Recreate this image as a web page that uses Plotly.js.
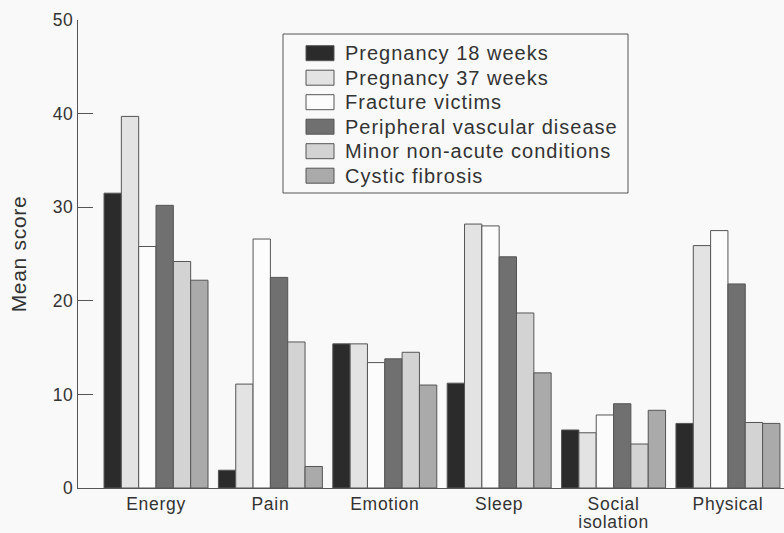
<!DOCTYPE html>
<html>
<head>
<meta charset="utf-8">
<script src="https://cdn.plot.ly/plotly-3.0.1.min.js"></script>
<style>
html,body{margin:0;padding:0;background:#f9f9f9;}
svg text{letter-spacing:0.7px;}
svg text.annotation-text{letter-spacing:1px;}
</style>
</head>
<body>
<div id="chart" style="width:784px;height:533px;"></div>
<script>
const categories = ['Energy', 'Pain', 'Emotion', 'Sleep', 'Social isolation', 'Physical'];
const tickLabels = ['Energy', 'Pain', 'Emotion', 'Sleep', 'Social<br>isolation', 'Physical'];

const seriesNames = ['Pregnancy 18 weeks', 'Pregnancy 37 weeks', 'Fracture victims',
  'Peripheral vascular disease', 'Minor non-acute conditions', 'Cystic fibrosis'];

const pregnancy18 = [31.5, 1.9, 15.4, 11.2, 6.2, 6.9];
const pregnancy37 = [39.7, 11.1, 15.4, 28.2, 5.9, 25.9];
const fracture    = [25.8, 26.6, 13.4, 28.0, 7.8, 27.5];
const peripheral  = [30.2, 22.5, 13.8, 24.7, 9.0, 21.8];
const minorCond   = [24.2, 15.6, 14.5, 18.7, 4.7, 7.0];
const cystic      = [22.2, 2.3, 11.0, 12.3, 8.3, 6.9];

const seriesValues = [pregnancy18, pregnancy37, fracture, peripheral, minorCond, cystic];
const colors = ['#2b2b2b', '#e3e3e3', '#fcfcfc', '#707070', '#d3d3d3', '#aaaaaa'];

const FONT = 'Liberation Sans, Arial, sans-serif';
const TXT = '#333';

const traces = seriesNames.map((name, i) => ({
  type: 'bar',
  name: name,
  x: categories,
  y: seriesValues[i],
  marker: {color: colors[i], line: {color: '#555', width: 1}},
  hoverinfo: 'skip',
  showlegend: false
}));

// plot area in pixels (for placing the custom legend box)
const W = 784, H = 533, L = 78, R = 0, T = 20, B = 45;
const pw = W - L - R, ph = H - T - B;
const px = x => (x - L) / pw;
const py = y => (H - B - y) / ph;

const shapes = [{
  type: 'rect', xref: 'paper', yref: 'paper',
  x0: px(283), x1: px(628), y0: py(34), y1: py(193),
  line: {color: '#555', width: 1}, fillcolor: '#f9f9f9', layer: 'above'
}];
const annotations = [];
seriesNames.forEach((name, i) => {
  const cy = 53.2 + 24.5 * i;
  shapes.push({
    type: 'rect', xref: 'paper', yref: 'paper',
    x0: px(306), x1: px(334), y0: py(cy - 7.5), y1: py(cy + 7.5),
    line: {color: '#555', width: 1}, fillcolor: colors[i], layer: 'above'
  });
  annotations.push({
    xref: 'paper', yref: 'paper', x: px(343), y: py(cy),
    xanchor: 'left', yanchor: 'middle', showarrow: false,
    text: name, font: {family: FONT, size: 20, color: TXT}
  });
});

const tickFont = {family: FONT, size: 17.5, color: TXT};

const layout = {
  width: W, height: H,
  paper_bgcolor: '#f9f9f9', plot_bgcolor: '#f9f9f9',
  margin: {l: L, r: R, t: T, b: B},
  font: tickFont,
  barmode: 'group',
  bargap: 0.091,
  bargroupgap: 0,
  showlegend: false,
  shapes: shapes,
  annotations: annotations,
  xaxis: {
    type: 'category',
    range: [-0.682, 5.49],
    tickvals: categories, ticktext: tickLabels,
    showline: true, linecolor: '#555', linewidth: 1,
    ticks: '', showgrid: false, zeroline: false,
    tickfont: tickFont
  },
  yaxis: {
    range: [0, 50],
    tickvals: [0, 10, 20, 30, 40, 50],
    ticks: 'inside', ticklen: 15, tickcolor: '#555', tickwidth: 1,
    showline: true, linecolor: '#555', linewidth: 1,
    showgrid: false, zeroline: false,
    tickfont: tickFont,
    title: {text: 'Mean score', font: {family: FONT, size: 21, color: TXT}, standoff: 20}
  }
};

Plotly.newPlot('chart', traces, layout, {displayModeBar: false, staticPlot: true}).then(gd => {
  gd.querySelectorAll('.xtick text').forEach(txt => {
    const lines = txt.querySelectorAll('tspan.line');
    lines.forEach((t, k) => {
      if (k > 0) t.setAttribute('dy', (1.0 * k) + 'em');
    });
  });
});
</script>
</body>
</html>
